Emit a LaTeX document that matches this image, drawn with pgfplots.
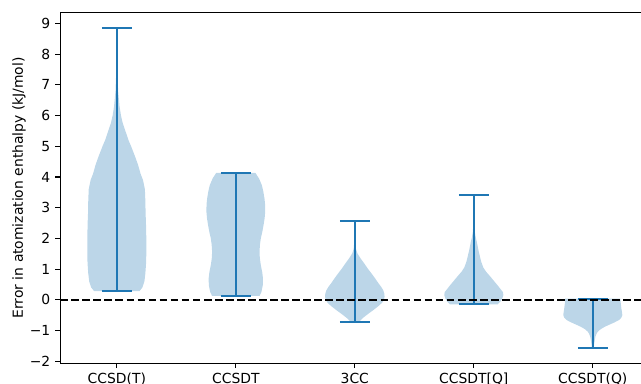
\documentclass[border=0pt]{standalone}
\usepackage{pgfplots}
\pgfplotsset{compat=1.18}
\usepackage{pgfplotstable}
\usepgfplotslibrary{fillbetween}
\usepackage{fontspec}
\setmainfont{DejaVu Sans}
\definecolor{c0}{HTML}{1F77B4}
\definecolor{vfill}{HTML}{BCD6E8}

\pgfplotstableread{
y w
0.28 0.19
0.4 0.215
0.6 0.232
0.86 0.24
1.2 0.246
1.5 0.248
2.0 0.248
2.5 0.245
2.8 0.242
3.2 0.24
3.6 0.236
3.9 0.22
4.1 0.2
4.4 0.178
4.66 0.154
5.0 0.12
5.2 0.098
5.5 0.072
5.75 0.05
6.0 0.035
6.3 0.023
6.8 0.011
7.3 0.006
7.8 0.004
8.3 0.003
8.85 0.003
}\vone

\pgfplotstableread{
y w
0.13 0.20
0.25 0.215
0.48 0.227
0.7 0.228
0.9 0.222
1.13 0.21
1.35 0.202
1.56 0.199
1.8 0.203
2.0 0.21
2.2 0.222
2.43 0.233
2.65 0.242
2.87 0.247
3.1 0.246
3.3 0.241
3.55 0.23
3.74 0.218
3.95 0.195
4.13 0.165
}\vtwo

\pgfplotstableread{
y w
-0.72 0.035
-0.6 0.065
-0.45 0.115
-0.34 0.154
-0.2 0.2
-0.1 0.228
0.0 0.245
0.1 0.25
0.2 0.248
0.3 0.24
0.42 0.222
0.53 0.2
0.7 0.17
0.86 0.14
1.0 0.112
1.19 0.078
1.35 0.048
1.51 0.022
1.65 0.01
1.9 0.004
2.2 0.002
2.57 0.001
}\vthree

\pgfplotstableread{
y w
-0.15 0.2
-0.05 0.225
0.05 0.24
0.15 0.248
0.25 0.245
0.37 0.22
0.48 0.198
0.59 0.174
0.75 0.14
0.91 0.104
1.05 0.08
1.24 0.062
1.4 0.052
1.56 0.042
1.75 0.032
1.89 0.025
2.05 0.015
2.22 0.008
2.5 0.004
3.0 0.002
3.41 0.001
}\vfour

\pgfplotstableread{
y w
-1.57 0.008
-1.42 0.012
-1.3 0.017
-1.2 0.022
-1.1 0.032
-1.04 0.042
-0.96 0.065
-0.88 0.1
-0.8 0.145
-0.74 0.18
-0.66 0.22
-0.58 0.24
-0.5 0.248
-0.4 0.245
-0.28 0.24
-0.15 0.236
-0.06 0.233
0.04 0.232
}\vfive

\begin{document}
\begin{tikzpicture}
\begin{axis}[
  name=ax,
  width=424.1pt, height=252.7pt, scale only axis,
  xmin=0.525, xmax=5.475, ymin=-2.07, ymax=9.36,
  xtick={1,2,3,4,5},
  xticklabels={CCSD(T),CCSDT,3CC,{CCSDT[Q]},CCSDT(Q)},
  ytick={-2,-1,0,1,2,3,4,5,6,7,8,9},
  yticklabels={−2,−1,0,1,2,3,4,5,6,7,8,9},
  tick pos=left, tick align=outside,
  major tick length=3.5pt,
  every tick/.style={black, line width=0.8pt},
  axis line style={black, line width=0.8pt},
  tick label style={font=\fontsize{10pt}{12pt}\selectfont, inner sep=0pt},
  yticklabel style={xshift=-3.5pt},
  xticklabel style={yshift=-3.5pt},
  ylabel={Error in atomization enthalpy (kJ/mol)},
  ylabel style={font=\fontsize{10pt}{12pt}\selectfont, at={(axis description cs:-0.070,0.5)}, anchor=center},
  bar/.style={c0, line width=1.5pt, mark=none, solid},
  edge/.style={draw=none, mark=none, forget plot},
  body/.style={fill=vfill, draw=none},
]
% violin bodies
\addplot[edge, name path=r1] table[x expr=1+\thisrow{w}, y=y] \vone;
\addplot[edge, name path=l1] table[x expr=1-\thisrow{w}, y=y] \vone;
\addplot[body] fill between[of=r1 and l1, reverse=true];
\addplot[edge, name path=r2] table[x expr=2+\thisrow{w}, y=y] \vtwo;
\addplot[edge, name path=l2] table[x expr=2-\thisrow{w}, y=y] \vtwo;
\addplot[body] fill between[of=r2 and l2, reverse=true];
\addplot[edge, name path=r3] table[x expr=3+\thisrow{w}, y=y] \vthree;
\addplot[edge, name path=l3] table[x expr=3-\thisrow{w}, y=y] \vthree;
\addplot[body] fill between[of=r3 and l3, reverse=true];
\addplot[edge, name path=r4] table[x expr=4+\thisrow{w}, y=y] \vfour;
\addplot[edge, name path=l4] table[x expr=4-\thisrow{w}, y=y] \vfour;
\addplot[body] fill between[of=r4 and l4, reverse=true];
\addplot[edge, name path=r5] table[x expr=5+\thisrow{w}, y=y] \vfive;
\addplot[edge, name path=l5] table[x expr=5-\thisrow{w}, y=y] \vfive;
\addplot[body] fill between[of=r5 and l5, reverse=true];
% extrema bars
\addplot[bar] coordinates {(1,0.28) (1,8.85)};
\addplot[bar] coordinates {(0.875,0.28) (1.125,0.28)};
\addplot[bar] coordinates {(0.875,8.85) (1.125,8.85)};
\addplot[bar] coordinates {(2,0.13) (2,4.13)};
\addplot[bar] coordinates {(1.875,0.13) (2.125,0.13)};
\addplot[bar] coordinates {(1.875,4.13) (2.125,4.13)};
\addplot[bar] coordinates {(3,-0.72) (3,2.57)};
\addplot[bar] coordinates {(2.875,-0.72) (3.125,-0.72)};
\addplot[bar] coordinates {(2.875,2.57) (3.125,2.57)};
\addplot[bar] coordinates {(4,-0.15) (4,3.41)};
\addplot[bar] coordinates {(3.875,-0.15) (4.125,-0.15)};
\addplot[bar] coordinates {(3.875,3.41) (4.125,3.41)};
\addplot[bar] coordinates {(5,-1.57) (5,0.04)};
\addplot[bar] coordinates {(4.875,-1.57) (5.125,-1.57)};
\addplot[bar] coordinates {(4.875,0.04) (5.125,0.04)};
% zero line
\addplot[black, mark=none, line width=1.5pt, dash pattern=on 5.55pt off 2.4pt] coordinates {(0.525,0) (5.475,0)};
\end{axis}
\pgfresetboundingbox
\path[use as bounding box] ([xshift=-43.4pt,yshift=-14.2pt]ax.south west) rectangle ([xshift=-6pt,yshift=8.9pt]ax.north east);
\end{tikzpicture}
\end{document}
